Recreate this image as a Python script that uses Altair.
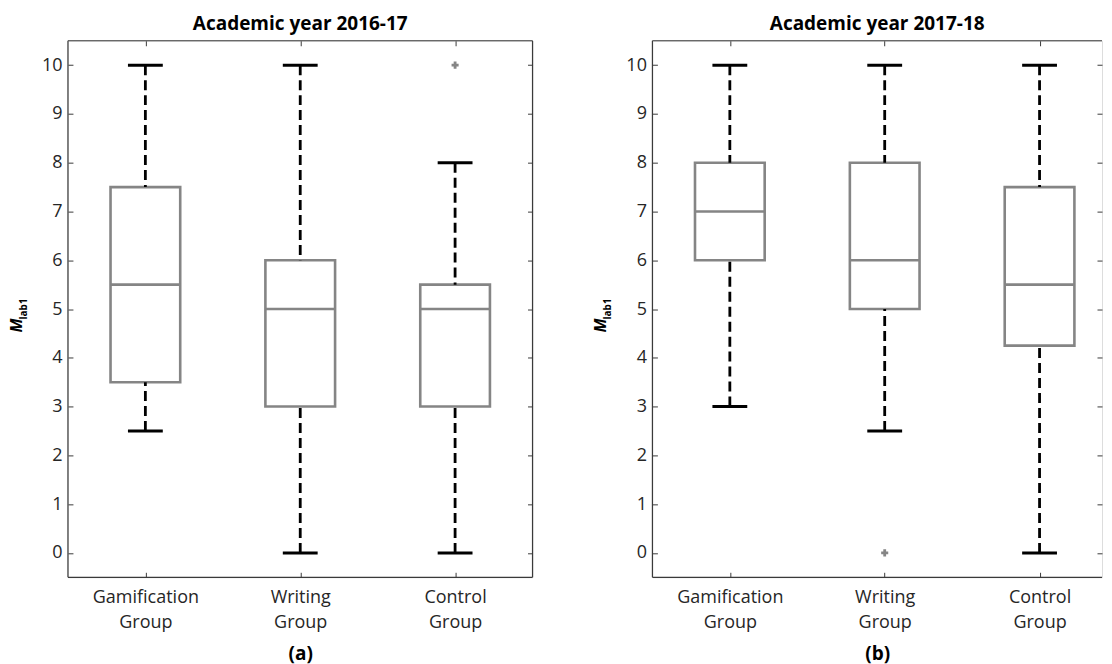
import altair as alt
import pandas as pd

# ---------------- data ----------------
groups = ["Gamification Group", "Writing Group", "Control Group"]
positions = [1, 2, 3]
y_ticks = list(range(0, 11))

# Academic year 2016-17
lo_a = [2.5, 0, 0]
q1_a = [3.5, 3, 3]
med_a = [5.5, 5, 5]
q3_a = [7.5, 6, 5.5]
hi_a = [10, 10, 8]
out_pos_a = [3]
out_val_a = [10]

# Academic year 2017-18
lo_b = [3, 2.5, 0]
q1_b = [6, 5, 4.25]
med_b = [7, 6, 5.5]
q3_b = [8, 8, 7.5]
hi_b = [10, 10, 10]
out_pos_b = [2]
out_val_b = [0]

titles = ["Academic year 2016-17", "Academic year 2017-18"]
subs = ["(a)", "(b)"]

# ---------------- style ----------------
FONT = "Open Sans"
GRAY = "#858585"
BORDER = "#3a3a3a"
TXT = "#262626"
W = 465
H = 537
W_RIGHT = 450
SPACING = 120
BOX_HALF = 0.225
CAP_HALF = 0.1125

label_expr = "[" + ",".join(
    "[" + ",".join("'" + w + "'" for w in g.split(" ")) + "]" for g in groups
) + "][datum.value - 1]"


def panel(lo, q1, med, q3, hi, out_pos, out_val, title, sub, width, right_border):
    xmax = 0.5 + 3 * width / W
    df = pd.DataFrame({"pos": positions, "group": groups, "lo": lo, "q1": q1,
                       "med": med, "q3": q3, "hi": hi})
    outs = pd.DataFrame({"pos": out_pos, "val": out_val})
    xs = alt.Scale(domain=[0.5, xmax], nice=False, zero=False)
    ys = alt.Scale(domain=[-0.5, 10.5], nice=False, zero=False)

    def X(f):
        return alt.X(f, type="quantitative", scale=xs, axis=None)

    def Y(f):
        return alt.Y(f, type="quantitative", scale=ys, axis=None)

    base = alt.Chart(df).transform_calculate(
        xl=f"datum.pos - {BOX_HALF}", xr=f"datum.pos + {BOX_HALF}",
        cl=f"datum.pos - {CAP_HALF}", cr=f"datum.pos + {CAP_HALF}")

    hb = alt.Chart(pd.DataFrame({"v": [-0.5, 10.5]})).mark_rule(
        color=BORDER, strokeWidth=1.2).encode(y=Y("v"))
    vb_vals = [0.5, 3.5] if right_border else [0.5]
    vb = alt.Chart(pd.DataFrame({"v": vb_vals})).mark_rule(
        color=BORDER, strokeWidth=1.2).encode(x=X("v"))

    box = base.mark_rect(fill="white", fillOpacity=0, stroke=GRAY, strokeWidth=2.6).encode(
        x=alt.X("xl", type="quantitative", scale=xs,
                axis=alt.Axis(values=positions, labelExpr=label_expr, title=sub,
                              offset=-5, domain=False, tickSize=5, tickColor=BORDER,
                              grid=False, labelPadding=11, labelLineHeight=25,
                              labelFont=FONT, labelFontSize=18, labelColor=TXT,
                              titleFont=FONT, titleFontSize=19, titleFontWeight="bold",
                              titleColor="black", titlePadding=13)),
        x2="xr:Q",
        y=alt.Y("q1", type="quantitative", scale=ys,
                axis=alt.Axis(values=y_ticks, offset=-5, domain=False, tickSize=5,
                              tickColor=BORDER, grid=False, title=None, labelPadding=6,
                              labelFont=FONT, labelFontSize=18, labelColor=TXT)),
        y2="q3:Q")

    whisk_hi = base.mark_rule(color="black", strokeWidth=2.8, strokeDash=[10, 5]).encode(
        x=X("pos"), y=Y("hi"), y2="q3:Q")
    whisk_lo = base.mark_rule(color="black", strokeWidth=2.8, strokeDash=[10, 5]).encode(
        x=X("pos"), y=Y("lo"), y2="q1:Q")
    cap_hi = base.mark_rule(color="black", strokeWidth=3).encode(
        x=X("cl"), x2="cr:Q", y=Y("hi"))
    cap_lo = base.mark_rule(color="black", strokeWidth=3).encode(
        x=X("cl"), x2="cr:Q", y=Y("lo"))
    medians = base.mark_rule(color=GRAY, strokeWidth=2.6).encode(
        x=X("xl"), x2="xr:Q", y=Y("med"))
    outliers = alt.Chart(outs).mark_point(shape="cross", filled=True, color=GRAY,
                                          size=50, opacity=1).encode(
        x=X("pos"), y=Y("val"))

    mirror = alt.Chart(df).mark_point(opacity=0).encode(
        x=alt.X("pos", type="quantitative", scale=xs,
                axis=alt.Axis(orient="top", values=positions, labels=False, domain=False,
                              tickSize=5, offset=-5, title=None, grid=False,
                              tickColor=BORDER)),
        y=alt.Y("med", type="quantitative", scale=ys,
                axis=alt.Axis(orient="right", values=y_ticks, labels=False, domain=False,
                              tickSize=5, offset=-5, title=None, grid=False,
                              tickColor=BORDER)))

    tdf = pd.DataFrame({"t": ["M"]})
    ytit_m = alt.Chart(tdf).mark_text(
        text="M", angle=270, font=FONT, fontSize=16, fontWeight="bold",
        fontStyle="italic", align="left", baseline="alphabetic", color="black").encode(
        x=alt.value(-46), y=alt.value(292))
    ytit_s = alt.Chart(tdf).mark_text(
        text="lab1", angle=270, font=FONT, fontSize=10, fontWeight="bold",
        align="left", baseline="alphabetic", color="black").encode(
        x=alt.value(-41), y=alt.value(279))

    return alt.layer(hb, vb, box, whisk_hi, whisk_lo, cap_hi, cap_lo, medians,
                     outliers, mirror, ytit_m, ytit_s).resolve_axis(
        x="independent", y="independent").properties(
        width=width, height=H,
        title=alt.Title(title, font=FONT, fontSize=19, fontWeight="bold",
                        color="black", anchor="middle", offset=6.5))


left = panel(lo_a, q1_a, med_a, q3_a, hi_a, out_pos_a, out_val_a,
             titles[0], subs[0], W, True)
right = panel(lo_b, q1_b, med_b, q3_b, hi_b, out_pos_b, out_val_b,
              titles[1], subs[1], W_RIGHT, False)

chart = alt.hconcat(left, right, spacing=SPACING, bounds="flush").properties(
    padding={"left": 0, "top": 5.5, "right": 0, "bottom": 0}
).configure_view(stroke="transparent").configure(background="white")

chart.save("out.html", embed_options={"renderer": "svg", "actions": False})
